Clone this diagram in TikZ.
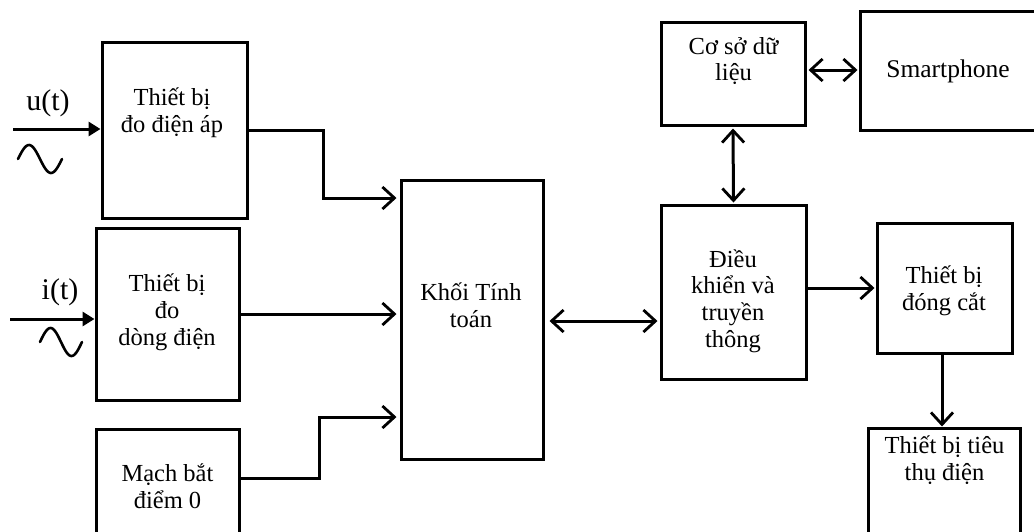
\documentclass[tikz,border=0pt]{standalone}
\usepackage{fontspec}
\setmainfont{Liberation Serif}
\usetikzlibrary{arrows.meta}

\begin{document}
\begin{tikzpicture}[x=1pt, y=-1pt,
  box/.style={draw, line width=3pt, inner sep=0pt},
  txt/.style={align=center, inner sep=0pt, font=\fontsize{24.5}{26.8}\selectfont},
  sig/.style={inner sep=0pt, font=\fontsize{30}{32}\selectfont},
  wire/.style={line width=3pt},
  conn/.style={wire, -{Straight Barb[length=12pt, width=22pt, line width=2.8pt]}},
  biconn/.style={wire, {Straight Barb[length=12pt, width=22pt, line width=2.8pt]}-{Straight Barb[length=12pt, width=22pt, line width=2.8pt]}},
  inarr/.style={wire, -{Triangle[length=12pt, width=14pt]}},
  wave/.style={line width=2.6pt, line cap=round}]

\clip (0,0) rectangle (1034,531);

% blocks
\node[box, minimum width=145pt, minimum height=176pt] (b1) at (174.5,130) {};
\node[box, minimum width=143pt, minimum height=172pt] (b2) at (167.5,314) {};
\node[box, minimum width=143pt, minimum height=116pt] (b3) at (167.5,487) {};
\node[box, minimum width=142pt, minimum height=279pt] (khoi) at (472,319.5) {};
\node[box, minimum width=145pt, minimum height=174pt] (dk) at (733.5,292) {};
\node[box, minimum width=135pt, minimum height=130pt] (dc) at (944.5,288) {};
\node[box, minimum width=152pt, minimum height=117pt] (tt) at (944,486.5) {};
\node[box, minimum width=144pt, minimum height=103pt] (cs) at (733,73.5) {};
\node[box, minimum width=185pt, minimum height=119pt] (sp) at (952.5,70.5) {};

% block texts
\node[txt] (t1) at (172,113) {Thiết bị\\đo điện áp};
\node[txt] (t2) at (167,312) {Thiết bị\\đo\\dòng điện};
\node[txt] (t3) at (167.5,486) {Mạch bắt\\điểm 0};
\node[txt] (tk) at (471,305) {Khối Tính\\toán};
\node[txt] (tdk) at (733,301) {Điều\\khiển và\\truyền\\thông};
\node[txt] (tdc) at (944,291) {Thiết bị\\đóng cắt};
\node[txt] (ttt) at (944.5,460) {Thiết bị tiêu\\thụ điện};
\node[txt] (tcs) at (733.5,61) {Cơ sở dữ\\liệu};
\node[txt, font=\fontsize{25.5}{28}\selectfont] (tsp) at (948,71) {Smartphone};

% input signals
\coordinate (uin) at (13,129);
\coordinate (iin) at (10,319);
\draw[inarr] (uin) -- (b1.west |- uin);
\draw[inarr] (iin) -- (b2.west |- iin);
\node[sig] (ul) at (48,103) {u(t)};
\node[sig] (il) at (60,292) {i(t)};
\draw[wave] plot[domain=0:1, samples=40, smooth] ({18+44*\x}, {159-14*sin(360*\x)});
\draw[wave] plot[domain=0:1, samples=40, smooth] ({40+42*\x}, {342-14*sin(360*\x)});

% measurement paths into the computing block
\draw[conn, shorten >=3pt] (b1.east) -| (323,198) -- (khoi.west |- 0,198);
\draw[conn, shorten >=3pt] (b2.east) -- (b2.east -| khoi.west);
\draw[conn, shorten >=3pt] (b3.east |- 0,478) -| (319,417) -- (khoi.west |- 0,417);

% control and communication links
\draw[biconn, shorten <=5pt, shorten >=2pt] (khoi.east |- 0,321) -- (dk.west |- 0,321);
\draw[conn, shorten >=1pt] (dk.east |- 0,288) -- (dc.west |- 0,288);
\draw[biconn, shorten <=2pt, shorten >=1pt] (cs.south) -- (dk.north);
\draw[biconn, shorten <=2pt, shorten >=1pt] (cs.east |- 0,70) -- (sp.west |- 0,70);
\draw[conn] (dc.south -| 942,0) -- (tt.north -| 942,0);
\end{tikzpicture}
\end{document}
